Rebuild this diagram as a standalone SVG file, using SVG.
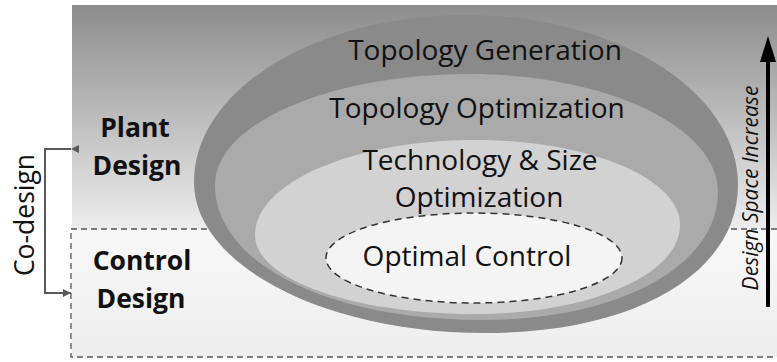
<svg xmlns="http://www.w3.org/2000/svg" width="777" height="362" viewBox="0 0 777 362">
  <style>
    .lbl { font-family: "Open Sans", "Liberation Sans", sans-serif; font-size: 28px; fill: #111; text-anchor: middle; }
    .side { font-family: "Open Sans", "Liberation Sans", sans-serif; font-size: 26.5px; font-weight: bold; fill: #111; text-anchor: middle; }
    .dash { fill: none; stroke: #555; stroke-width: 1.3; stroke-dasharray: 6 4; }
    .co { fill: none; stroke: #5a5a5a; stroke-width: 2; }
  </style>
  <defs>
    <linearGradient id="topGrad" x1="0" y1="0" x2="0" y2="1">
      <stop offset="0" stop-color="#8c8c8c"/>
      <stop offset="1" stop-color="#ededed"/>
    </linearGradient>
    <linearGradient id="botGrad" x1="0" y1="0" x2="0" y2="1">
      <stop offset="0" stop-color="#f8f8f8"/>
      <stop offset="1" stop-color="#ededed"/>
    </linearGradient>
    <marker id="coHead" viewBox="0 0 10 10" refX="10" refY="5" markerWidth="10" markerHeight="8" markerUnits="userSpaceOnUse" orient="auto">
      <path d="M0,0 L10,5 L0,10 Z" fill="#5a5a5a"/>
    </marker>
  </defs>

  <rect x="0" y="0" width="777" height="362" fill="#ffffff"/>

  <g id="background">
    <rect x="72" y="5" width="705" height="224" fill="url(#topGrad)"/>
    <rect x="72" y="229" width="705" height="128" fill="url(#botGrad)"/>
    <path class="dash" d="M777,229 H71 V357 H777"/>
  </g>

  <g id="topology-generation">
    <path d="M194,182 C194,89.8 315.8,15 466,15 C616.2,15 738,91 738,185 C738,272 637,333 485,333 C324,333 194,265 194,182 Z" fill="#8a8a8a"/>
    <text class="lbl" x="485" y="60">Topology Generation</text>
  </g>

  <g id="topology-optimization">
    <path d="M215,185 C215,123.7 329.2,74 470,74 C607,74 718,126.8 718,192 C718,266 619,320 482,320 C327,320 215,263 215,185 Z" fill="#aaaaaa"/>
    <text class="lbl" x="477" y="118">Topology Optimization</text>
  </g>

  <g id="technology-size-optimization">
    <path d="M255,235 C255,182.5 353.5,140 475,140 C588.2,140 680,178 680,225 C680,274.8 589.8,314 475,314 C351.8,314 255,279.2 255,235 Z" fill="#d2d2d2"/>
    <text class="lbl" x="480" y="170">Technology &amp; Size</text>
    <text class="lbl" x="479" y="207">Optimization</text>
  </g>

  <g id="optimal-control">
    <ellipse cx="474" cy="258" rx="148" ry="45" fill="#f4f4f4" stroke="#333" stroke-width="1.5" stroke-dasharray="7 5"/>
    <text class="lbl" x="467" y="266">Optimal Control</text>
  </g>

  <g id="plant-design">
    <text class="side" x="135" y="137">Plant</text>
    <text class="side" x="137" y="175">Design</text>
  </g>

  <g id="control-design">
    <text class="side" x="142" y="270">Control</text>
    <text class="side" x="141" y="308">Design</text>
  </g>

  <g id="co-design-label">
    <text x="34" y="215" transform="rotate(-90 34 215)" font-family="'Open Sans', 'Liberation Sans', sans-serif" font-size="26.5" fill="#111" text-anchor="middle">Co-design</text>
  </g>

  <g id="design-space-label">
    <text x="758" y="188" transform="rotate(-90 758 188)" font-family="'Open Sans', 'Liberation Sans', sans-serif" font-size="21" font-style="italic" fill="#111" text-anchor="middle">Design Space Increase</text>
  </g>

  <g id="connectors">
    <path class="co" d="M71,149 H45 V293 H71" marker-start="url(#coHead)" marker-end="url(#coHead)"/>
    <line x1="768" y1="307" x2="768" y2="60" stroke="#000" stroke-width="4"/>
    <polygon points="768,36 760,62 776,62" fill="#000"/>
  </g>
</svg>
